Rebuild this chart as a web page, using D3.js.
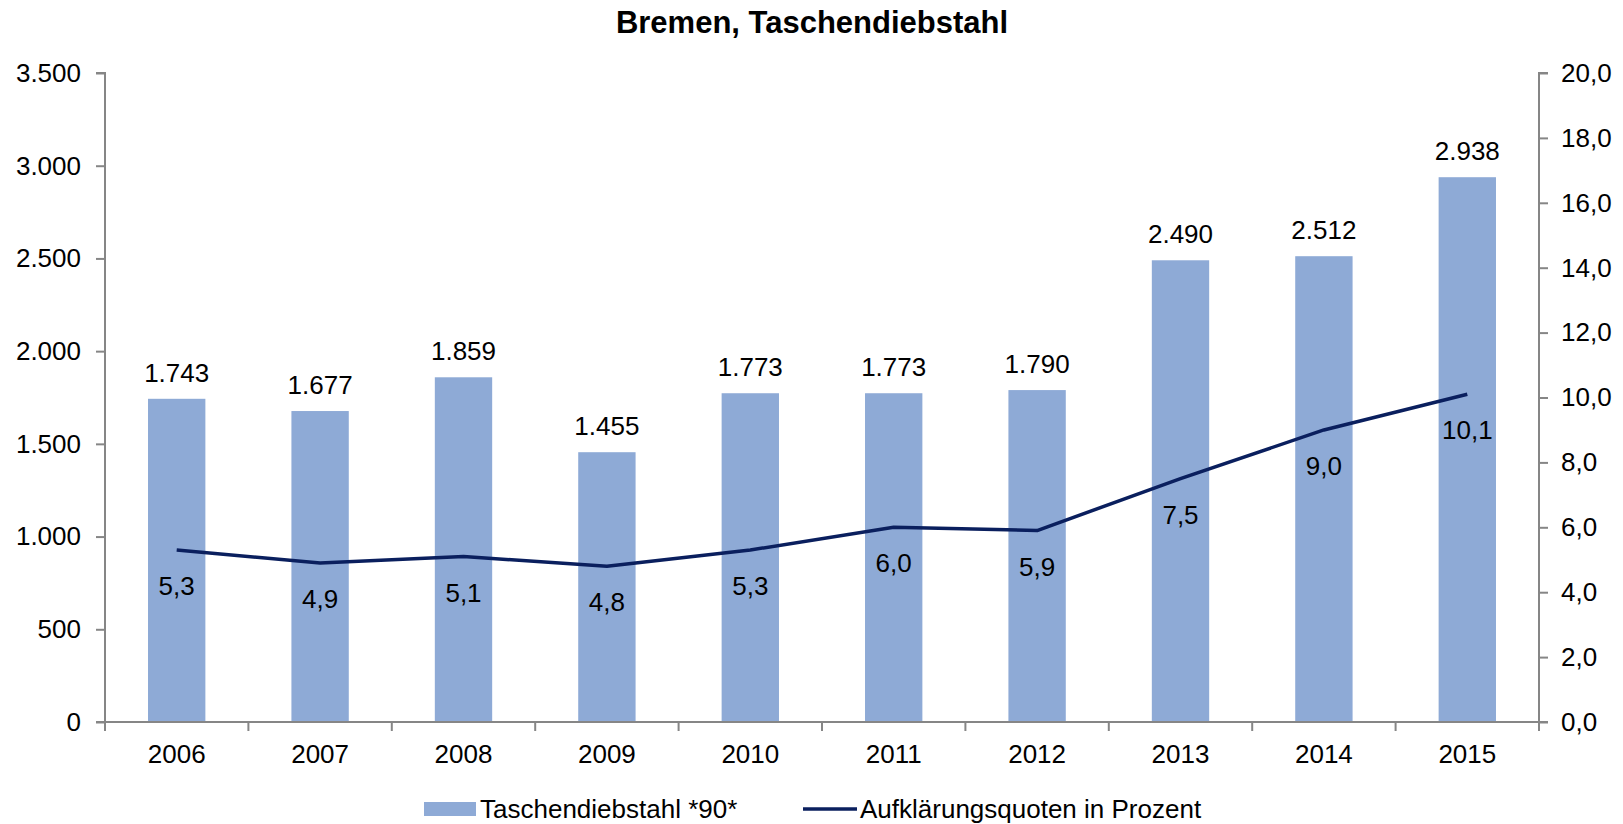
<!DOCTYPE html>
<html>
<head>
<meta charset="utf-8">
<script src="https://cdn.jsdelivr.net/npm/d3@7"></script>
<style>
  body { margin: 0; background: #fff; }
  svg text { font-family: "Liberation Sans", Arial, sans-serif; fill: #000; }
</style>
</head>
<body>
<svg width="1623" height="824"></svg>
<script>
const years = ['2006','2007','2008','2009','2010','2011','2012','2013','2014','2015'];
const theft = [1743, 1677, 1859, 1455, 1773, 1773, 1790, 2490, 2512, 2938];
const rate = [5.3, 4.9, 5.1, 4.8, 5.3, 6.0, 5.9, 7.5, 9.0, 10.1];
const leftTicks = [0, 500, 1000, 1500, 2000, 2500, 3000, 3500];
const rightTicks = [0, 2, 4, 6, 8, 10, 12, 14, 16, 18, 20];

const plotLeft = 105, plotRight = 1539, plotTop = 73, plotBottom = 722;
const barColor = '#8eaad6';
const lineColor = '#0a1f5e';
const axisColor = '#868686';
const fs = '26px';

const de = d3.formatLocale({decimal: ',', thousands: '.', grouping: [3], currency: ['', '€']});
const fmtInt = de.format(',d');
const fmt1 = de.format(',.1f');

let svg = d3.select('svg');

let x = d3.scaleBand().domain(years).range([plotLeft, plotRight]);
let yL = d3.scaleLinear().domain([0, 3500]).range([plotBottom, plotTop]);
let yR = d3.scaleLinear().domain([0, 20]).range([plotBottom, plotTop]);

// title
svg.append('text')
  .attr('x', 812).attr('y', 33)
  .attr('text-anchor', 'middle')
  .style('font-size', '31px').style('font-weight', 'bold')
  .text('Bremen, Taschendiebstahl');

// bars
let barW = x.bandwidth() * 0.4;
svg.selectAll('.bar')
  .data(theft)
  .enter().append('rect')
  .attr('class', 'bar')
  .attr('x', (d, i) => x(years[i]) + (x.bandwidth() - barW) / 2)
  .attr('y', d => yL(d))
  .attr('width', barW)
  .attr('height', d => yL(0) - yL(d))
  .attr('fill', barColor);

svg.selectAll('.barlabel')
  .data(theft)
  .enter().append('text')
  .attr('x', (d, i) => x(years[i]) + x.bandwidth() / 2)
  .attr('y', d => yL(d) - 17)
  .attr('text-anchor', 'middle')
  .style('font-size', fs)
  .text(d => fmtInt(d));

// axes
let axisL = d3.axisLeft(yL).tickValues(leftTicks).tickSize(9).tickFormat(fmtInt);
let axisR = d3.axisRight(yR).tickValues(rightTicks).tickSize(9).tickFormat(fmt1);

function styleAxis(g) {
  g.select('.domain').attr('stroke', axisColor).attr('stroke-width', 2);
  g.selectAll('.tick line').attr('stroke', axisColor).attr('stroke-width', 2);
  g.selectAll('.tick text').style('font-size', fs).attr('fill', '#000')
    .style('font-family', '"Liberation Sans", Arial, sans-serif');
}

svg.append('g').attr('transform', `translate(${plotLeft},0)`).call(axisL).call(styleAxis)
  .call(g => g.select('.domain').attr('d', `M-9,${plotTop}H0V${plotBottom}H-9`))
  .selectAll('.tick text').attr('x', -24);

svg.append('g').attr('transform', `translate(${plotRight},0)`).call(axisR).call(styleAxis)
  .call(g => g.select('.domain').attr('d', `M9,${plotTop}H0V${plotBottom}H9`))
  .selectAll('.tick text').attr('x', 22);

// x axis with ticks at category boundaries
let xg = svg.append('g').attr('transform', `translate(0,${plotBottom})`);
xg.append('line').attr('x1', plotLeft).attr('x2', plotRight).attr('stroke', axisColor).attr('stroke-width', 2);
xg.selectAll('.xt')
  .data(d3.range(years.length + 1))
  .enter().append('line')
  .attr('x1', i => plotLeft + i * x.step()).attr('x2', i => plotLeft + i * x.step())
  .attr('y1', 0).attr('y2', 9)
  .attr('stroke', axisColor).attr('stroke-width', 2);
xg.selectAll('.xl')
  .data(years)
  .enter().append('text')
  .attr('x', d => x(d) + x.bandwidth() / 2)
  .attr('y', 41)
  .attr('text-anchor', 'middle')
  .style('font-size', fs)
  .text(d => d);

// line
let line = d3.line()
  .x((d, i) => x(years[i]) + x.bandwidth() / 2)
  .y(d => yR(d));

svg.append('path')
  .datum(rate)
  .attr('d', line)
  .attr('fill', 'none')
  .attr('stroke', lineColor)
  .attr('stroke-width', 3.5)
  .attr('stroke-linejoin', 'round');

svg.selectAll('.ratelabel')
  .data(rate)
  .enter().append('text')
  .attr('x', (d, i) => x(years[i]) + x.bandwidth() / 2)
  .attr('y', d => yR(d) + 45)
  .attr('text-anchor', 'middle')
  .style('font-size', fs)
  .text(d => fmt1(d));

// legend
let lg = svg.append('g');
lg.append('rect').attr('x', 424).attr('y', 802).attr('width', 52).attr('height', 14).attr('fill', barColor);
lg.append('text').attr('x', 480).attr('y', 818).style('font-size', fs).text('Taschendiebstahl *90*');
lg.append('line').attr('x1', 803).attr('x2', 857).attr('y1', 809).attr('y2', 809)
  .attr('stroke', lineColor).attr('stroke-width', 3.5);
lg.append('text').attr('x', 860).attr('y', 818).style('font-size', fs).text('Aufklärungsquoten in Prozent');
</script>
</body>
</html>
